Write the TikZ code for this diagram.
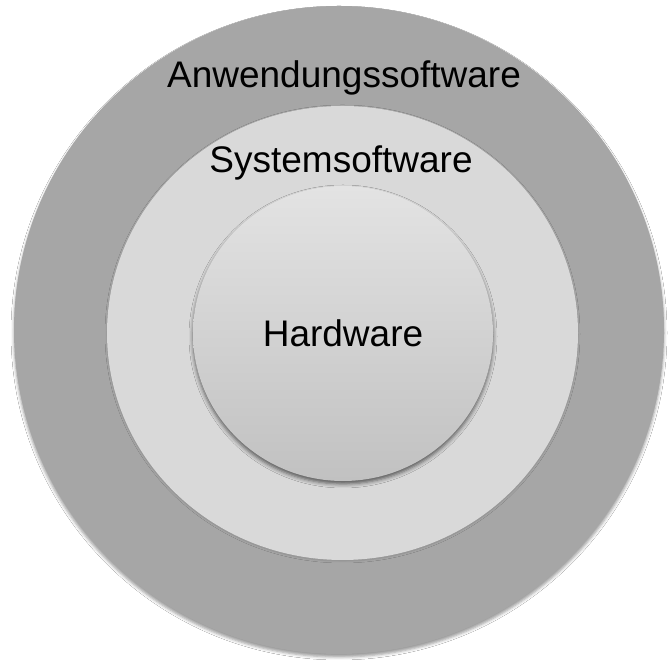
\documentclass[tikz,border=0pt]{standalone}
\usepackage{fontspec}
\setmainfont{Liberation Sans}
\usetikzlibrary{shapes.geometric,shadows.blur}
\definecolor{ringouter}{HTML}{A6A6A6}
\definecolor{ringmiddle}{HTML}{D9D9D9}
\definecolor{coretop}{HTML}{E3E3E3}
\definecolor{corebottom}{HTML}{C1C1C1}
\tikzset{
  ring/.style={ellipse, draw=none, inner sep=0pt},
  label text/.style={anchor=base, font=\fontsize{37}{44}\selectfont, text=black, inner sep=0pt}
}
\begin{document}
\begin{tikzpicture}[x=1pt,y=1pt]
  \useasboundingbox (0,0) rectangle (669,660);
  \fill[white] (0,0) rectangle (669,660);
  % three nested layers
  \node[ring, fill=ringouter, minimum width=650pt, minimum height=648pt,
        blur shadow={shadow xshift=0pt, shadow yshift=-3pt, shadow blur radius=3pt, shadow opacity=40}]
        (outer) at (339,330) {};
  \node[ring, fill=ringmiddle, minimum width=471pt, minimum height=454pt,
        blur shadow={shadow xshift=0pt, shadow yshift=-1pt, shadow blur radius=2pt, shadow opacity=15}]
        (middle) at (342.5,327) {};
  \node[ring, top color=coretop, bottom color=corebottom, minimum width=300pt, minimum height=295pt,
        blur shadow={shadow xshift=0pt, shadow yshift=-3pt, shadow blur radius=4pt, shadow opacity=60}]
        (core) at (343,326.5) {};
  % layer names
  \node[label text] (tapp) at (344,572) {Anwendungssoftware};
  \node[label text] (tsys) at (341,487) {Systemsoftware};
  \node[label text] (thw) at (343,313) {Hardware};
\end{tikzpicture}
\end{document}
